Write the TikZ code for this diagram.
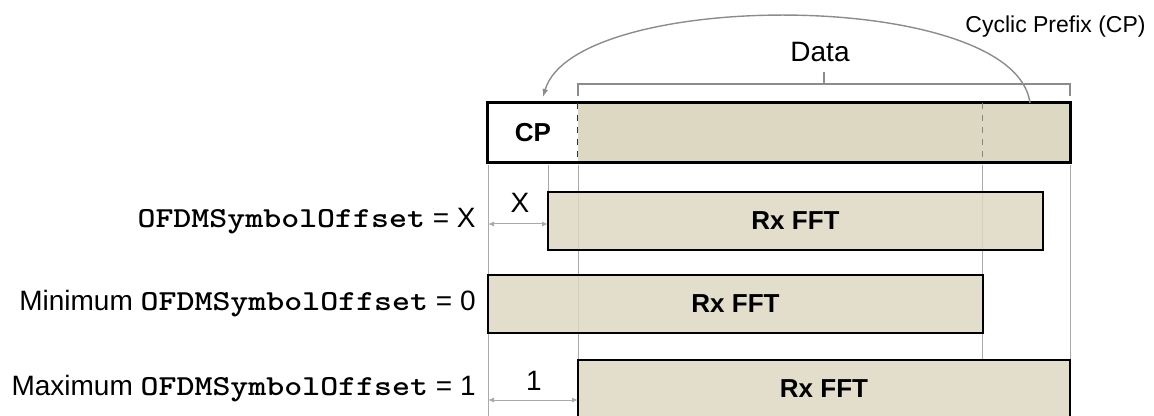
\documentclass[tikz,border=0pt]{standalone}
\usepackage{fontspec}
\setmainfont{Liberation Sans}
\setmonofont{Liberation Mono}
\newfontfamily\ofdmfont{lmmonolt10-bold}[Extension=.otf, FakeStretch=1.18]
\usetikzlibrary{arrows.meta}
\definecolor{fftfill}{RGB}{221,216,194}
\definecolor{guide}{RGB}{170,170,170}
\definecolor{arcgray}{RGB}{140,140,140}
\newcommand{\fsz}[1]{\fontsize{#1}{#1}\selectfont}
\newcommand{\ofdm}{{\ofdmfont\fsz{14.5pt}OFDMSymbolOffset}}
\begin{document}
\begin{tikzpicture}[x=0.5pt,y=-0.5pt,
  fftbox/.style={draw=black, line width=1.1pt, fill=fftfill, fill opacity=0.85, text opacity=1, inner sep=0pt, font=\bfseries\fsz{13pt}},
  lbl/.style={anchor=east, inner sep=0pt, font=\fsz{14pt}},
  guideline/.style={draw=guide, line width=0.5pt},
  dim/.style={draw=guide, line width=0.5pt, {Latex[length=3pt,width=2.5pt]}-{Latex[length=3pt,width=2.5pt]}},
  dimlbl/.style={inner sep=0pt, font=\fsz{14pt}},
]
\useasboundingbox (0,0) rectangle (1154,416);

% guide coordinates
\coordinate (g1t) at (488,165); \coordinate (g1b) at (488,416);
\coordinate (g2t) at (548,165); \coordinate (g2b) at (548,192);
\coordinate (g3t) at (578,165); \coordinate (g3b) at (578,416);
\coordinate (g4t) at (982,165); \coordinate (g4b) at (982,360);
\coordinate (g5t) at (1070,165); \coordinate (g5b) at (1070,360);
\foreach \a in {1,...,5} { \draw[guideline] (g\a t) -- (g\a b); }

% top symbol
\node[fill=white, inner sep=0pt, minimum width=45pt, minimum height=29.5pt, font=\bfseries\fsz{13pt}] (cp) at (533,132.5) {CP};
\node[fill=fftfill, inner sep=0pt, minimum width=246pt, minimum height=29.5pt] (data) at (824,132.5) {};
\draw[line width=1.2pt] (cp.north west) rectangle (data.south east);
\draw[black!80, dashed, line width=0.6pt] (data.north west) -- (data.south west);
\draw[guide!80!black, dashed, line width=0.6pt] ([xshift=-44pt]data.north east) -- ([xshift=-44pt]data.south east);

% data bracket
\coordinate (bL) at (578,96); \coordinate (bR) at (1070,96);
\coordinate (bC) at (824,84);
\draw[arcgray, line width=0.6pt] (bL) -- (578,84) -- (1070,84) -- (bR);
\draw[arcgray, line width=0.6pt] (bC) -- (824,72);
\node[inner sep=0pt, font=\fsz{14pt}] (datalbl) at (820,52) {Data};

% cyclic prefix arc
\coordinate (cpsrc) at (1030,103);
\coordinate (cpdst) at (543,97);
\draw[arcgray, line width=0.7pt, -{Latex[length=4pt,width=3pt]}] (cpsrc) .. controls (1015,-12) and (575,-12) .. (cpdst);
\node[anchor=east, inner sep=0pt, font=\fsz{11.5pt}] (cplbl) at (1146,27) {Cyclic Prefix (CP)};

% Rx FFT boxes
\node[fftbox, minimum width=247.5pt, minimum height=29pt] (fft1) at (795.5,221) {Rx FFT};
\node[fftbox, minimum width=247.5pt, minimum height=29pt] (fft2) at (735.5,304) {Rx FFT};
\node[fftbox, minimum width=246pt, minimum height=29pt] (fft3) at (824,389) {Rx FFT};

% row labels
\node[lbl] (l1) at (476,221) {\ofdm{} = X};
\node[lbl] (l2) at (476,304) {Minimum \ofdm{} = 0};
\node[lbl] (l3) at (476,389) {Maximum \ofdm{} = 1};

% dimension arrows
\coordinate (x1) at (488,224); \coordinate (x2) at (548,224);
\draw[dim] (x1) -- (x2);
\node[dimlbl] (xl) at (520,203) {X};
\coordinate (o1) at (488,400); \coordinate (o2) at (578,400);
\draw[dim] (o1) -- (o2);
\node[dimlbl] (ol) at (534,381) {1};
\end{tikzpicture}
\end{document}
